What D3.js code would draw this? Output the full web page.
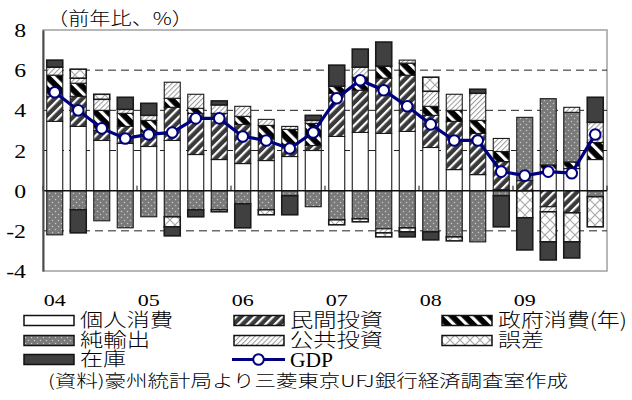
<!DOCTYPE html>
<html>
<head>
<meta charset="utf-8">
<script src="https://cdn.jsdelivr.net/npm/d3@7"></script>
<style>
  html, body { margin: 0; padding: 0; background: #fff; }
  svg { display: block; }
  .jp { font-family: "Noto Sans CJK JP", "Noto Sans", sans-serif; font-weight: 300; }
  .num { font-family: "Liberation Serif", "DejaVu Serif", serif; }
</style>
</head>
<body>
<svg id="chart" width="632" height="400"></svg>
<script>
// Quarterly, 2004 Q1 – 2009 Q4 (contributions to real GDP growth, % y/y)
const quarters = d3.range(24);
const yearLabels = ["04", "05", "06", "07", "08", "09"];
const yTicks = [-4, -2, 0, 2, 4, 6, 8];

const consumption = [3.45, 3.2, 2.5, 2.35, 2.2, 2.5, 1.8, 1.55, 1.35, 1.5, 1.7, 2.0,
                     2.7, 2.9, 2.85, 2.95, 2.15, 1.05, 0.8, 0.05, 0, 0.95, 1.1, 1.55];
const privateInv  = [1.25, 1.5, 0.5, 0.85, 0.75, 1.65, 2.05, 2.3, 1.95, 1.1, 0.6, 0.25,
                     2.15, 2.1, 2.75, 2.8, 1.6, 2.4, 2.05, 1.4, 0.5, -0.8, -1.1, 0];
const govConsump  = [1.05, 0.65, 1.0, 0.65, 0.55, 0.45, 0.25, 0, 0.4, 0.65, 0.75, 1.1,
                     0.35, 0.65, 0.6, 0.6, 0.45, 0.55, 0.65, 0.5, 0, 0.33, 0.33, 0.85];
const netExports  = [-2.2, -0.95, -1.5, -1.85, -1.3, -1.3, -0.95, -0.95, -0.65, -0.95, -0.25, -0.8,
                     -1.45, -1.4, -1.9, -1.85, -2.05, -2.3, -2.55, -0.25, 3.15, 3.3, 2.47, -0.3];
const publicInv   = [0.4, 0.25, 0.55, 0.2, 0.25, 0.8, 0.7, 0.42, 0.5, 0.3, 0.15, 0.15,
                     0, 0.5, -0.2, 0.15, 0.75, 0.8, 1.35, 0.65, 0, -0.25, 0.25, 1.0];
const discrepancy = [0, 0.45, 0.25, 0, 0, -0.5, 0, -0.1, 0, -0.25, 0, 0,
                     -0.25, -0.15, -0.2, -0.2, 0.7, -0.2, 0, 0, -1.35, -1.5, -1.45, -1.5];
const inventories = [0.35, -1.15, 0, 0.6, 0.6, -0.45, -0.35, 0.2, -1.2, 0, -0.95, 0.25,
                     1.05, 0.9, 1.2, -0.25, -0.4, 0, 0.2, -1.55, -1.6, -0.9, -0.8, 1.25];
const gdp         = [4.9, 4.0, 3.1, 2.6, 2.8, 2.9, 3.6, 3.6, 2.7, 2.5, 2.1, 2.9,
                     4.6, 5.5, 5.0, 4.2, 3.3, 2.5, 2.5, 0.95, 0.75, 0.95, 0.87, 2.8];

// stacking order of the series
const seriesKeys = ["個人消費", "民間投資", "政府消費", "純輸出", "公共投資", "誤差", "在庫"];
const seriesValues = {
  "個人消費": consumption, "民間投資": privateInv, "政府消費": govConsump,
  "純輸出": netExports, "公共投資": publicInv, "誤差": discrepancy, "在庫": inventories
};
const fills = {
  "個人消費": "#ffffff", "民間投資": "url(#pPriv)", "政府消費": "url(#pGov)",
  "純輸出": "url(#pNet)", "公共投資": "url(#pPub)", "誤差": "url(#pErr)", "在庫": "#404040"
};

const table = quarters.map(i => {
  const row = { q: i };
  seriesKeys.forEach(k => row[k] = seriesValues[k][i]);
  return row;
});

const svg = d3.select("#chart");
const M = { left: 43, right: 607, top: 30, bottom: 271 };

// ---- patterns ----
const defs = svg.append("defs");
function stripes(id, bg, fg, size, band, angle) {
  const p = defs.append("pattern").attr("id", id).attr("patternUnits", "userSpaceOnUse")
    .attr("width", size).attr("height", size).attr("patternTransform", `rotate(${angle})`);
  p.append("rect").attr("width", size).attr("height", size).attr("fill", bg);
  p.append("rect").attr("width", band).attr("height", size).attr("fill", fg);
}
stripes("pPriv", "#3a3a3a", "#ffffff", 6.5, 2.2, 45);
stripes("pGov", "#000000", "#ffffff", 9, 3.2, -45);
stripes("pPub", "#ffffff", "#9a9a9a", 3.6, 1, 45);
const pe = defs.append("pattern").attr("id", "pErr").attr("patternUnits", "userSpaceOnUse")
  .attr("width", 10).attr("height", 10);
pe.append("rect").attr("width", 10).attr("height", 10).attr("fill", "#fff");
pe.append("path").attr("d", "M0,0L10,10M10,0L0,10").attr("stroke", "#a8a8a8").attr("stroke-width", 1.2);
const pn = defs.append("pattern").attr("id", "pNet").attr("patternUnits", "userSpaceOnUse")
  .attr("width", 6).attr("height", 6);
pn.append("rect").attr("width", 6).attr("height", 6).attr("fill", "#7a7a7a");
pn.append("circle").attr("cx", 1.5).attr("cy", 1.5).attr("r", 0.75).attr("fill", "#c8c8c8");
pn.append("circle").attr("cx", 4.5).attr("cy", 4.5).attr("r", 0.75).attr("fill", "#c8c8c8");

// ---- scales ----
const x = d3.scaleBand().domain(quarters).range([M.left, M.right])
  .paddingInner(0.32).paddingOuter(0.16);
const y = d3.scaleLinear().domain([-4, 8]).range([M.bottom, M.top]);

// plot frame
svg.append("rect").attr("x", M.left).attr("y", M.top)
  .attr("width", M.right - M.left).attr("height", M.bottom - M.top)
  .attr("fill", "none").attr("stroke", "#a0a0a0").attr("stroke-width", 1.5);

// dashed gridlines
svg.append("g").selectAll("line").data([-2, 2, 4, 6]).join("line")
  .attr("x1", M.left).attr("x2", M.right)
  .attr("y1", d => y(d)).attr("y2", d => y(d))
  .attr("stroke", "#222").attr("stroke-width", 1).attr("stroke-dasharray", "8,5");

// ---- stacked bars ----
const stacked = d3.stack().keys(seriesKeys).offset(d3.stackOffsetDiverging)(table);
const gBars = svg.append("g");
stacked.forEach(layer => {
  gBars.append("g").selectAll("rect")
    .data(layer.filter(d => Math.abs(d[1] - d[0]) > 1e-9))
    .join("rect")
    .attr("x", d => x(d.data.q))
    .attr("width", x.bandwidth())
    .attr("y", d => y(Math.max(d[0], d[1])))
    .attr("height", d => Math.abs(y(d[0]) - y(d[1])))
    .attr("fill", fills[layer.key])
    .attr("stroke", "#1a1a1a")
    .attr("stroke-width", layer.key === "誤差" || layer.key === "在庫" ? 1.6 : 1.1);
});

// zero line and year ticks
svg.append("line").attr("x1", M.left).attr("x2", M.right)
  .attr("y1", y(0)).attr("y2", y(0)).attr("stroke", "#111").attr("stroke-width", 1.5);
svg.append("g").selectAll("line").data(d3.range(0, 25, 4)).join("line")
  .attr("x1", d => M.left + x.step() * d).attr("x2", d => M.left + x.step() * d)
  .attr("y1", y(0)).attr("y2", y(0) - 5).attr("stroke", "#111").attr("stroke-width", 1);

// left axis
const yAxis = svg.append("g").attr("transform", `translate(${M.left},0)`)
  .call(d3.axisLeft(y).tickValues(yTicks).tickSize(0).tickPadding(17).tickFormat(d => String(d)));
yAxis.select(".domain").attr("stroke", "#4a4a4a").attr("stroke-width", 2);
yAxis.selectAll("text").attr("class", "num").attr("font-size", 19).attr("fill", "#000")
  .attr("dy", "0.35em").attr("transform", "scale(1.25,1)")
  .attr("x", -17 / 1.25);

// GDP line with markers
const line = d3.line().x((d, i) => x(i) + x.bandwidth() / 2).y(d => y(d));
svg.append("path").datum(gdp).attr("d", line)
  .attr("fill", "none").attr("stroke", "#000080").attr("stroke-width", 3.2);
svg.append("g").selectAll("circle").data(gdp).join("circle")
  .attr("cx", (d, i) => x(i) + x.bandwidth() / 2).attr("cy", d => y(d))
  .attr("r", 5.3).attr("fill", "#fff").attr("stroke", "#000080").attr("stroke-width", 2);

// unit label
function fit(sel, w) {
  sel.attr("textLength", w).attr("lengthAdjust", "spacingAndGlyphs");
  return sel;
}
fit(svg.append("text").attr("class", "jp").attr("x", 47).attr("y", 25)
  .attr("font-size", 18).text("（前年比、%）"), 146);

// year labels at the first quarter of each year
svg.append("g").selectAll("text").data(yearLabels).join("text")
  .attr("class", "num")
  .attr("x", (d, i) => x(i * 4) + x.bandwidth() / 2)
  .attr("y", 306).attr("text-anchor", "middle").attr("font-size", 16.5)
  .attr("textLength", 22).attr("lengthAdjust", "spacingAndGlyphs")
  .text(d => d);

// ---- legend ----
const legendItems = [
  { key: "個人消費", col: 0, row: 0, w: 93 },
  { key: "民間投資", col: 1, row: 0, w: 93 },
  { key: "政府消費", col: 2, row: 0, w: 129, label: "政府消費(年)" },
  { key: "純輸出", col: 0, row: 1, w: 70 },
  { key: "公共投資", col: 1, row: 1, w: 93 },
  { key: "誤差", col: 2, row: 1, w: 46 },
  { key: "在庫", col: 0, row: 2, w: 46 },
  { key: "GDP", col: 1, row: 2, w: 43 }
];
const colX = [24, 234, 442];
const rowY = [320.5, 340.5, 359.5];
const gLeg = svg.append("g");
legendItems.forEach(it => {
  const bx = colX[it.col], cy = rowY[it.row];
  if (it.key === "GDP") {
    gLeg.append("line").attr("x1", bx - 2).attr("x2", bx + 51).attr("y1", cy).attr("y2", cy)
      .attr("stroke", "#000080").attr("stroke-width", 3.2);
    gLeg.append("circle").attr("cx", bx + 24.5).attr("cy", cy).attr("r", 5.3)
      .attr("fill", "#fff").attr("stroke", "#000080").attr("stroke-width", 2);
  } else {
    gLeg.append("rect").attr("x", bx).attr("y", cy - 5).attr("width", 50).attr("height", 10)
      .attr("fill", fills[it.key]).attr("stroke", "#111").attr("stroke-width", 1.5);
  }
  const t = gLeg.append("text")
    .attr("class", it.key === "GDP" ? "num" : "jp")
    .attr("x", bx + 56).attr("y", cy).attr("dy", "0.36em")
    .attr("font-size", it.key === "GDP" ? 20 : 19).attr("fill", "#000")
    .text(it.label || it.key);
  fit(t, it.w);
});

// source note
fit(svg.append("text").attr("class", "jp").attr("x", 308).attr("y", 381).attr("dy", "0.36em")
  .attr("text-anchor", "middle").attr("font-size", 16.5)
  .text("(資料)豪州統計局より三菱東京UFJ銀行経済調査室作成"), 520);
</script>
</body>
</html>
